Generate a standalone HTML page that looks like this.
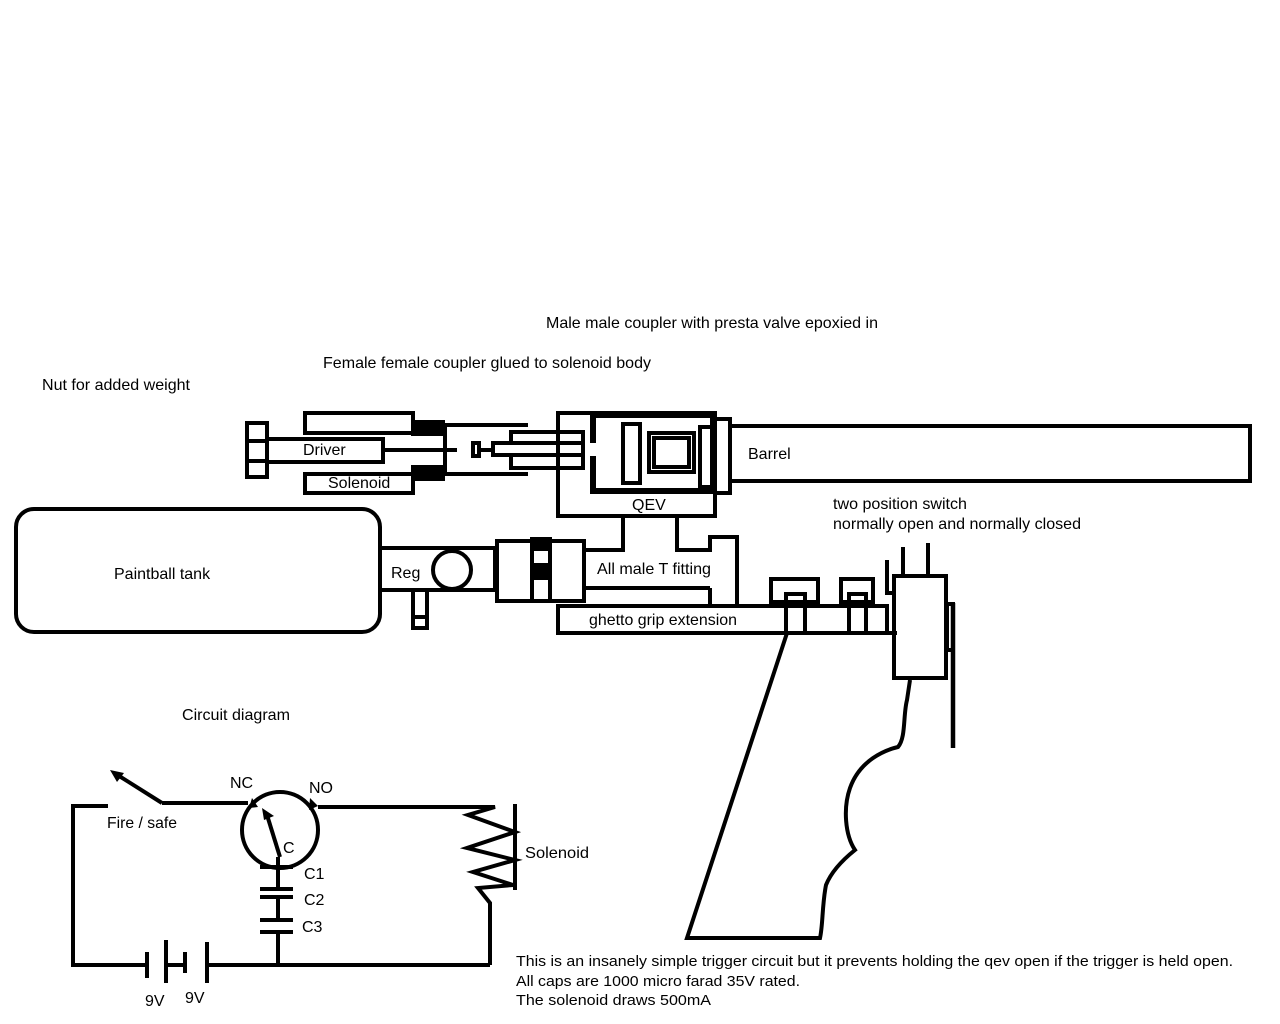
<!DOCTYPE html>
<html><head><meta charset="utf-8"><style>
html,body{margin:0;padding:0;background:#fff;}
svg{display:block;}
text{font-family:"Liberation Sans",sans-serif;font-size:16px;fill:#000;}
</style></head><body>
<svg width="1280" height="1024" viewBox="0 0 1280 1024" xmlns="http://www.w3.org/2000/svg">
<rect width="1280" height="1024" fill="#fff"/>
<g fill="none" stroke="#000" stroke-width="4" stroke-linejoin="miter">
<rect x="247" y="423" width="20" height="54"/>
<line x1="247" y1="441" x2="267" y2="441"/><line x1="247" y1="461" x2="267" y2="461"/>
<rect x="267" y="439" width="116" height="23"/>
<line x1="383" y1="450" x2="457" y2="450" stroke-width="4"/>
<rect x="305" y="413" width="108" height="20"/>
<rect x="305" y="474" width="108" height="19"/>
<rect x="413" y="422" width="30" height="12" fill="#000"/>
<rect x="413" y="467" width="30" height="12" fill="#000"/>
<line x1="443" y1="425" x2="528" y2="425"/>
<line x1="443" y1="474" x2="528" y2="474"/>
<line x1="445" y1="425" x2="445" y2="474"/>
<rect x="473" y="443" width="6" height="13"/>
<line x1="479" y1="450" x2="493" y2="450"/>
<rect x="511" y="432" width="72" height="11"/>
<rect x="493" y="443" width="90" height="12"/>
<rect x="511" y="455" width="72" height="13"/>
<rect x="558" y="413" width="157" height="103"/>
<path d="M593 443 V415 H713 V491 H593 V456" stroke-width="6"/>
<rect x="623" y="424" width="17" height="59"/>
<rect x="649" y="433" width="45" height="39"/>
<rect x="654" y="438" width="35" height="29"/>
<rect x="700" y="427" width="12" height="60"/>
<rect x="715" y="419" width="15" height="74"/>
<rect x="730" y="426" width="520" height="55"/>
<path d="M623 516 V550 H583"/>
<path d="M677 516 V550 H710 V537 H737 V605"/>
<line x1="583" y1="588" x2="710" y2="588"/>
<line x1="710" y1="588" x2="710" y2="605"/>
<rect x="16" y="509" width="364" height="123" rx="18"/>
<rect x="380" y="548" width="115" height="42"/>
<circle cx="452" cy="570" r="19"/>
<rect x="413" y="590" width="14" height="38"/>
<line x1="413" y1="617" x2="427" y2="617"/>
<rect x="497" y="541" width="87" height="60"/>
<rect x="532" y="541" width="18" height="60"/>
<rect x="532" y="539" width="18" height="10" fill="#000"/>
<rect x="532" y="565" width="18" height="13" fill="#000"/>
<rect x="558" y="606" width="329" height="27"/>
<line x1="887" y1="633" x2="897" y2="633"/>
<rect x="771" y="579" width="47" height="23"/>
<rect x="786" y="594" width="19" height="39"/>
<rect x="841" y="579" width="32" height="23"/>
<rect x="849" y="594" width="17" height="39"/>
<rect x="894" y="576" width="52" height="102"/>
<line x1="903" y1="547" x2="903" y2="576"/><line x1="928" y1="543" x2="928" y2="576"/>
<path d="M887 560 V593 H894"/>
<line x1="953" y1="603" x2="953" y2="748" stroke-width="4.5"/>
<rect x="947" y="604" width="6" height="46"/>
<path d="M787 633 L687 938 L820 938 C823 925 822 905 826 885 C832 870 845 858 855 850 C845 835 843 808 850 788 C860 760 885 750 898 747 C906 738 903 715 907 700 L910 680"/>
<path d="M108 806 H73 V965 H147"/>
<line x1="147" y1="952" x2="147" y2="978"/>
<line x1="166" y1="940" x2="166" y2="983"/>
<line x1="166" y1="965" x2="185" y2="965"/>
<line x1="185" y1="952" x2="185" y2="973"/>
<line x1="207" y1="942" x2="207" y2="983"/>
<line x1="207" y1="965" x2="490" y2="965"/>
<path d="M490 965 V903 L478 888 L513 885 L473 872 L515 860 L467 848 L515 832 L468 815 L495 807 H318"/>
<line x1="515" y1="804" x2="515" y2="890"/>
<circle cx="280" cy="830" r="38"/>
<path d="M162 803 L116 774"/>
<path d="M248 803 H162"/>
<line x1="280" y1="857" x2="267" y2="815"/>
<line x1="278" y1="857" x2="278" y2="867"/>
<line x1="260" y1="867" x2="293" y2="867"/>
<line x1="278" y1="867" x2="278" y2="889"/>
<line x1="260" y1="889" x2="293" y2="889"/>
<line x1="260" y1="897" x2="293" y2="897"/>
<line x1="278" y1="897" x2="278" y2="920"/>
<line x1="260" y1="920" x2="293" y2="920"/>
<line x1="260" y1="932" x2="293" y2="932"/>
<line x1="278" y1="932" x2="278" y2="965"/>
</g>
<g fill="#000">
<polygon points="110,770 124,773 117,782"/>
<polygon points="262,808 274,816 264,820"/>
<polygon points="252,798 258,807 249,808"/>
<polygon points="310,798 318,806 309,810"/>
</g>
<text x="546" y="328" textLength="332" lengthAdjust="spacingAndGlyphs">Male male coupler with presta valve epoxied in</text>
<text x="323" y="368" textLength="328" lengthAdjust="spacingAndGlyphs">Female female coupler glued to solenoid body</text>
<text x="42" y="390" textLength="148" lengthAdjust="spacingAndGlyphs">Nut for added weight</text>
<text x="303" y="455">Driver</text>
<text x="328" y="488">Solenoid</text>
<text x="748" y="459">Barrel</text>
<text x="632" y="510">QEV</text>
<text x="833" y="509" textLength="134" lengthAdjust="spacingAndGlyphs">two position switch</text>
<text x="833" y="529" textLength="248" lengthAdjust="spacingAndGlyphs">normally open and normally closed</text>
<text x="114" y="579">Paintball tank</text>
<text x="391" y="578">Reg</text>
<text x="597" y="574" textLength="114" lengthAdjust="spacingAndGlyphs">All male T fitting</text>
<text x="589" y="625" textLength="148" lengthAdjust="spacingAndGlyphs">ghetto grip extension</text>
<text x="182" y="720" textLength="108" lengthAdjust="spacingAndGlyphs">Circuit diagram</text>
<text x="230" y="788">NC</text>
<text x="309" y="793">NO</text>
<text x="107" y="828" textLength="70" lengthAdjust="spacingAndGlyphs">Fire / safe</text>
<text x="283" y="853">C</text>
<text x="304" y="879">C1</text>
<text x="304" y="905">C2</text>
<text x="302" y="932">C3</text>
<text x="525" y="858" textLength="64" lengthAdjust="spacingAndGlyphs">Solenoid</text>
<text x="145" y="1006">9V</text>
<text x="185" y="1003">9V</text>
<text x="516" y="966" textLength="717" lengthAdjust="spacingAndGlyphs" style="font-size:15px">This is an insanely simple trigger circuit but it prevents holding the qev open if the trigger is held open.</text>
<text x="516" y="986" textLength="284" lengthAdjust="spacingAndGlyphs" style="font-size:15px">All caps are 1000 micro farad 35V rated.</text>
<text x="516" y="1005" textLength="195" lengthAdjust="spacingAndGlyphs" style="font-size:15px">The solenoid draws 500mA</text>
</svg>
</body></html>
